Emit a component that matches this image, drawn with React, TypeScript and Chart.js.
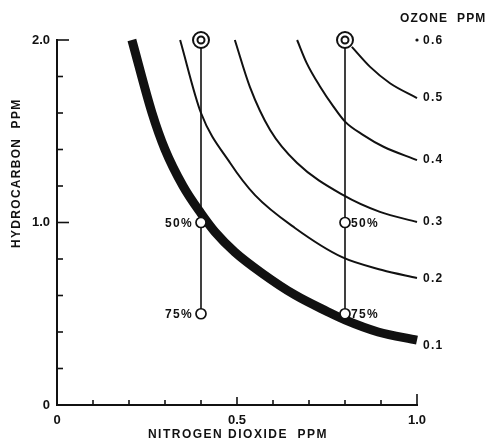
import React, { useEffect, useRef } from 'react';
import { Chart, registerables } from 'chart.js';

Chart.register(...registerables);

const INK = '#111111';
const FONT = '"Liberation Sans", Arial, Helvetica, sans-serif';

// Axes
const no2Min = 0;
const no2Max = 1.0;
const no2Step = 0.1;
const hcMin = 0;
const hcMax = 2.0;
const hcStep = 0.2;
const no2LabelValues = [0, 0.5, 1.0];
const no2LabelTexts = ['0', '0.5', '1.0'];
const hcLabelValues = [0, 1.0, 2.0];
const hcLabelTexts = ['0', '1.0', '2.0'];

// Ozone isopleths (NO2 ppm on x, hydrocarbon ppm on y)
const ozoneLevels = ['0.1', '0.2', '0.3', '0.4', '0.5', '0.6'];
const iso01X = [0.208, 0.264, 0.3, 0.35, 0.4, 0.439, 0.494, 0.569, 0.661, 0.753, 0.8, 0.892, 1.0];
const iso01Y = [2.0, 1.6, 1.4, 1.2, 1.05, 0.948, 0.838, 0.723, 0.603, 0.51, 0.466, 0.4, 0.355];
const iso02X = [0.342, 0.4, 0.481, 0.55, 0.661, 0.792, 0.903, 1.0];
const iso02Y = [2.0, 1.6, 1.326, 1.15, 0.97, 0.81, 0.74, 0.696];
const iso03X = [0.494, 0.536, 0.592, 0.667, 0.794, 0.897, 1.0];
const iso03Y = [2.0, 1.742, 1.507, 1.326, 1.151, 1.058, 1.003];
const iso04X = [0.667, 0.694, 0.731, 0.768, 0.8, 0.851, 0.907, 1.0];
const iso04Y = [2.0, 1.872, 1.744, 1.635, 1.553, 1.479, 1.415, 1.342];
const iso05X = [0.819, 0.869, 0.925, 1.0];
const iso05Y = [1.962, 1.854, 1.763, 1.682];
const iso06X = [1.0];
const iso06Y = [2.0];

// Control strategies
const controlNO2 = [0.4, 0.8];
const baseHC = [2.0, 2.0];
const reducedHC50 = [1.0, 1.0];
const reducedHC75 = [0.5, 0.5];
const reductionLabels = ['50%', '75%'];

const toPts = (xs: number[], ys: number[]) => xs.map((x, i) => ({ x, y: ys[i] }));
const near = (a: number, b: number) => Math.abs(a - b) < 1e-6;

function text(ctx: any, s: string, x: number, y: number, align: string, size = 12, spacing = 1.2) {
  ctx.font = `bold ${size}px ${FONT}`;
  ctx.letterSpacing = `${spacing}px`;
  ctx.textAlign = align;
  ctx.textBaseline = 'middle';
  ctx.fillStyle = INK;
  ctx.fillText(s, x, y);
}

const overlayPlugin = {
  id: 'overlay',
  afterDraw(chart: any) {
    const { ctx } = chart;
    const xs = chart.scales.x;
    const ys = chart.scales.y;
    const px = (v: number) => xs.getPixelForValue(v);
    const py = (v: number) => ys.getPixelForValue(v);
    ctx.save();
    ctx.strokeStyle = INK;
    ctx.lineWidth = 1.6;
    // inward tick marks
    xs.ticks.forEach((t: any) => {
      const v = t.value;
      if (near(v, no2Min)) return;
      const len = near(v, no2Max) ? 11 : no2LabelValues.some((l) => near(l, v)) ? 8 : 5;
      ctx.beginPath();
      ctx.moveTo(px(v), xs.top);
      ctx.lineTo(px(v), xs.top - len);
      ctx.stroke();
    });
    ys.ticks.forEach((t: any) => {
      const v = t.value;
      if (near(v, hcMin)) return;
      const len = hcLabelValues.some((l) => near(l, v)) ? 12 : 6;
      ctx.beginPath();
      ctx.moveTo(ys.right, py(v));
      ctx.lineTo(ys.right + len, py(v));
      ctx.stroke();
    });

    // ozone labels at curve ends
    const ends = [
      [iso01X, iso01Y, 5],
      [iso02X, iso02Y, 1],
      [iso03X, iso03Y, 0],
      [iso04X, iso04Y, 0],
      [iso05X, iso05Y, 0],
      [iso06X, iso06Y, 1],
    ] as any[];
    ends.forEach(([X, Y, dy], i) => {
      const n = X.length - 1;
      text(ctx, ozoneLevels[i], px(X[n]) + 6, py(Y[n]) + dy, 'left', 12, 1.3);
    });
    text(ctx, 'OZONE  PPM', px(no2Max) - 17, py(hcMax) - 21, 'left', 12, 1.1);

    // reduction labels
    controlNO2.forEach((x, i) => {
      const left = i === 0;
      const lx = left ? px(x) - 8 : px(x) + 6;
      const al = left ? 'right' : 'left';
      text(ctx, reductionLabels[0], lx, py(reducedHC50[i]) + 1, al, 12, 1.3);
      text(ctx, reductionLabels[1], lx, py(reducedHC75[i]) + 1, al, 12, 1.3);
    });

    // axis titles
    text(ctx, 'NITROGEN DIOXIDE  PPM', px((no2Min + no2Max) / 2) + 1, xs.top + 30, 'center', 12, 1.5);
    ctx.save();
    ctx.translate(ys.left + 17, py(1.27));
    ctx.rotate(-Math.PI / 2);
    text(ctx, 'HYDROCARBON  PPM', 0, 0, 'center', 12, 1.3);
    ctx.restore();
    ctx.restore();
  },
};

export default function App() {
  const ref = useRef<HTMLCanvasElement>(null);

  useEffect(() => {
    if (!ref.current) return;
    const curve = (xs: number[], ys: number[], w: number) => ({
      data: toPts(xs, ys),
      showLine: true,
      borderColor: INK,
      borderWidth: w,
      pointRadius: 0,
      cubicInterpolationMode: 'monotone',
      borderCapStyle: 'butt',
      clip: false,
      order: 10,
    });
    const datasets: any[] = [
      curve(iso01X, iso01Y, 9),
      curve(iso02X, iso02Y, 2),
      curve(iso03X, iso03Y, 2),
      curve(iso04X, iso04Y, 2),
      curve(iso05X, iso05Y, 2),
      {
        data: toPts(iso06X, iso06Y),
        showLine: false,
        pointRadius: 1.6,
        pointBackgroundColor: INK,
        pointBorderWidth: 0,
        clip: false,
        order: 3,
      },
    ];
    controlNO2.forEach((x, i) => {
      datasets.push({
        data: [
          { x, y: baseHC[i] },
          { x, y: reducedHC75[i] },
        ],
        showLine: true,
        borderColor: INK,
        borderWidth: 1.6,
        pointRadius: 0,
        clip: false,
        order: 6,
      });
    });
    datasets.push({
      data: [
        ...controlNO2.map((x, i) => ({ x, y: reducedHC50[i] })),
        ...controlNO2.map((x, i) => ({ x, y: reducedHC75[i] })),
      ],
      showLine: false,
      pointRadius: 5,
      pointBorderWidth: 1.7,
      pointBorderColor: INK,
      pointBackgroundColor: '#ffffff',
      clip: false,
      order: 1,
    });
    datasets.push({
      data: controlNO2.map((x, i) => ({ x, y: baseHC[i] })),
      showLine: false,
      pointRadius: 8,
      pointBorderWidth: 2,
      pointBorderColor: INK,
      pointBackgroundColor: '#ffffff',
      clip: false,
      order: 2,
    });
    datasets.push({
      data: controlNO2.map((x, i) => ({ x, y: baseHC[i] })),
      showLine: false,
      pointRadius: 3.5,
      pointBorderWidth: 2,
      pointBorderColor: INK,
      pointBackgroundColor: '#ffffff',
      clip: false,
      order: 0,
    });

    const chart = new Chart(ref.current, {
      type: 'scatter',
      data: { datasets },
      options: {
        responsive: false,
        animation: false,
        events: [],
        layout: { padding: { top: 40, right: 69, left: 0, bottom: 0 } },
        plugins: { legend: { display: false }, tooltip: { enabled: false } },
        scales: {
          x: {
            type: 'linear',
            min: no2Min,
            max: no2Max,
            grid: { display: false, drawTicks: false },
            border: { display: true, color: INK, width: 2 },
            ticks: {
              stepSize: no2Step,
              autoSkip: false,
              maxRotation: 0,
              padding: 8,
              color: INK,
              font: { family: FONT, size: 13, weight: 'bold' },
              callback: (v: any) => {
                const k = no2LabelValues.findIndex((l) => near(l, Number(v)));
                return k >= 0 ? no2LabelTexts[k] : '';
              },
            },
            afterFit: (s: any) => {
              s.height = 36;
            },
          },
          y: {
            type: 'linear',
            min: hcMin,
            max: hcMax,
            grid: { display: false, drawTicks: false },
            border: { display: true, color: INK, width: 2 },
            ticks: {
              stepSize: hcStep,
              autoSkip: false,
              padding: 7,
              color: INK,
              font: { family: FONT, size: 13, weight: 'bold' },
              callback: (v: any) => {
                const k = hcLabelValues.findIndex((l) => near(l, Number(v)));
                return k >= 0 ? hcLabelTexts[k] : '';
              },
            },
            afterFit: (s: any) => {
              s.width = 57;
            },
          },
        },
      } as any,
      plugins: [overlayPlugin],
    });
    return () => chart.destroy();
  }, []);

  return (
    <div style={{ position: 'fixed', left: 0, top: 0, width: 486, height: 441, background: '#fff' }}>
      <canvas ref={ref} width={486} height={441} style={{ display: 'block' }} />
    </div>
  );
}
